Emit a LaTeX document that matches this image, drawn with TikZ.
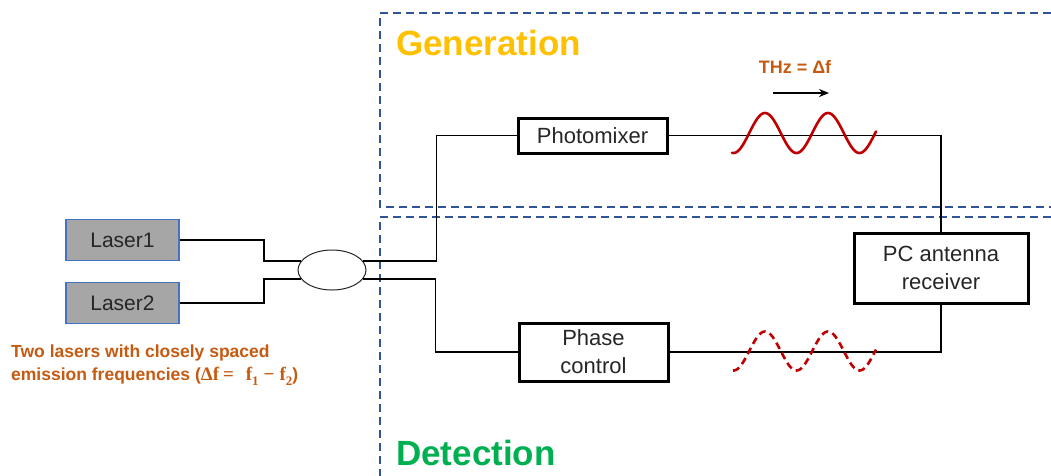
\documentclass[tikz,border=0pt]{standalone}
\usepackage{fontspec}
\setmainfont{Liberation Sans}
\newfontfamily\formulafont{Liberation Serif}
\usetikzlibrary{shapes.geometric,arrows.meta}
\definecolor{zoneblue}{HTML}{2F5597}
\definecolor{laserfill}{HTML}{A6A6A6}
\definecolor{laseredge}{HTML}{4472C4}
\definecolor{genyellow}{HTML}{FFC000}
\definecolor{detgreen}{HTML}{00B050}
\definecolor{noteorange}{HTML}{C55A11}
\definecolor{wavered}{HTML}{C00000}
\definecolor{ink}{HTML}{262626}
\newcommand{\lowidx}[1]{\raisebox{-0.25em}{\fontsize{13}{13}\selectfont #1}}
\tikzset{
  zone/.style={draw=zoneblue, line width=1.8pt, dash pattern=on 8pt off 5pt},
  laserbox/.style={draw=laseredge, fill=laserfill, line width=1.3pt, minimum width=113, minimum height=41, inner sep=0pt, font=\fontsize{21}{25}\selectfont, text=ink},
  unitbox/.style={draw=black, line width=3pt, inner sep=0pt, align=center, font=\fontsize{22}{28}\selectfont, text=ink},
  wire/.style={draw=black, line width=1.8pt},
  wave/.style={draw=wavered, line width=2.6pt},
  zonetitle/.style={anchor=base west, font=\bfseries\fontsize{35}{40}\selectfont, inner sep=0pt},
  note/.style={text=noteorange, font=\bfseries\fontsize{17.5}{23}\selectfont}
}
\begin{document}
\begin{tikzpicture}[x=1pt, y=-1pt]
\useasboundingbox (0,0) rectangle (1051,475);

% generation and detection zones
\draw[zone] (1051,13) -- (380,13) -- (380,207) -- (1051,207);
\draw[zone] (1051,217) -- (380,217) -- (380,476);
\node[zonetitle, text=genyellow] (gen) at (396,55) {Generation};
\node[zonetitle, text=detgreen] (det) at (396,465) {Detection};

% sources and fibre coupler
\node[laserbox] (laser1) at (122.5,240) {Laser1};
\node[laserbox] (laser2) at (122.5,303) {Laser2};
\node[ellipse, draw=ink, line width=1pt, minimum width=68, minimum height=40, inner sep=0pt] (coupler) at (332,270) {};

% functional blocks
\node[unitbox, minimum width=149, minimum height=35] (photomixer) at (592.5,135.5) {Photomixer};
\node[unitbox, minimum width=149, minimum height=58] (phase) at (593.5,352) {Phase\\control};
\node[unitbox, minimum width=174, minimum height=70] (pcant) at (941,268) {PC antenna\\receiver};

% optical paths
\draw[wire] (laser1.east) -- ++(84,0) |- (coupler.163.5);
\draw[wire] (laser2.east) -- ++(84,0) |- (coupler.196.5);
\draw[wire] (coupler.16.5) -| ([xshift=-80]photomixer.west) -- (photomixer.west);
\draw[wire] (coupler.-16.5) -| ([xshift=-82]phase.west) -- (phase.west);
\draw[wire] (photomixer.east) -| (pcant.north);
\draw[wire] (pcant.south) |- (phase.east);

% THz waves (period 63, phase so that the first crest sits at x = 765)
\draw[wave, line cap=round] plot[domain=0:144, samples=120, smooth] ({732+\x}, {133 - 20*sin(5.7143*(\x-17.25))});
\draw[wave, dash pattern=on 7pt off 4.5pt] plot[domain=0:143, samples=120, smooth] ({733+\x}, {351 - 19.5*sin(5.7143*(\x-16.25))});

% propagation direction and label
\coordinate (dirA) at (773,93);
\coordinate (dirB) at (829,93);
\draw[line width=1.8pt, -{Stealth[length=10pt, width=8pt]}] (dirA) -- (dirB);
\node[note, font=\bfseries\fontsize{18}{22}\selectfont] (thz) at (795,67) {THz = Δf};

% laser description
\node[note, anchor=north west, align=left, inner sep=0pt] (desc) at (11,345)
  {Two lasers with closely spaced\\emission frequencies ({\formulafont\bfseries\fontsize{19}{23}\selectfont Δf\hspace{4pt}=\hspace{12pt}f\lowidx{1}\hspace{5pt}−\hspace{5pt}f\lowidx{2}})};
\end{tikzpicture}
\end{document}
